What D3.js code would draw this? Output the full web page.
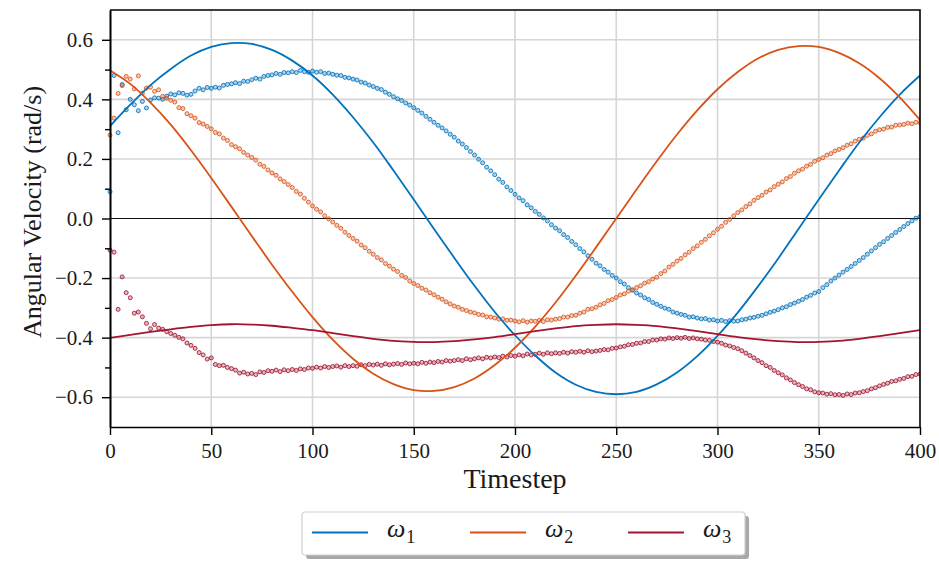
<!DOCTYPE html>
<html>
<head>
<meta charset="utf-8">
<script src="https://cdn.jsdelivr.net/npm/d3@7"></script>
<style>
  body { margin: 0; background: #fff; }
  svg { display: block; }
  svg text { font-family: "Liberation Serif", "DejaVu Serif", serif !important; fill: #1a1a1a; }
</style>
</head>
<body>
<svg id="drawing_region"></svg>
<script>
// model curves, sampled every 10 timesteps
const lineSteps = d3.range(0, 401, 10);
const w1Line = [0.310, 0.382, 0.448, 0.502, 0.547, 0.576, 0.589, 0.586, 0.566, 0.530, 0.480, 0.416, 0.340, 0.255, 0.161, 0.064, -0.035, -0.132, -0.226, -0.314, -0.392, -0.460, -0.517, -0.558, -0.582, -0.590, -0.582, -0.557, -0.517, -0.462, -0.394, -0.316, -0.228, -0.134, -0.035, 0.064, 0.161, 0.255, 0.340, 0.416, 0.480];
const w2Line = [0.497, 0.452, 0.389, 0.315, 0.229, 0.136, 0.039, -0.059, -0.155, -0.246, -0.331, -0.407, -0.471, -0.521, -0.556, -0.576, -0.579, -0.566, -0.537, -0.492, -0.434, -0.363, -0.282, -0.192, -0.097, 0.000, 0.097, 0.192, 0.282, 0.363, 0.434, 0.492, 0.537, 0.566, 0.579, 0.576, 0.556, 0.521, 0.471, 0.407, 0.331];
const w3Line = [-0.401, -0.391, -0.381, -0.372, -0.364, -0.358, -0.355, -0.356, -0.360, -0.367, -0.375, -0.385, -0.395, -0.404, -0.411, -0.414, -0.415, -0.412, -0.406, -0.398, -0.388, -0.378, -0.369, -0.361, -0.357, -0.355, -0.357, -0.361, -0.369, -0.378, -0.388, -0.398, -0.406, -0.412, -0.415, -0.414, -0.411, -0.404, -0.395, -0.385, -0.375];

// estimated values, every 2 timesteps
const dotSteps = d3.range(0, 401, 2);
const w1Est = [
  0.090, 0.480, 0.288, 0.450, 0.365, 0.400, 0.382, 0.362, 0.393, 0.371,
  0.398, 0.405, 0.404, 0.400, 0.411, 0.418, 0.415, 0.422, 0.420, 0.414,
  0.417, 0.428, 0.437, 0.432, 0.440, 0.437, 0.441, 0.438, 0.447, 0.450,
  0.452, 0.456, 0.453, 0.461, 0.460, 0.466, 0.471, 0.468, 0.477, 0.480,
  0.482, 0.487, 0.484, 0.490, 0.489, 0.493, 0.490, 0.497, 0.493, 0.491,
  0.495, 0.491, 0.493, 0.487, 0.488, 0.484, 0.481, 0.480, 0.474, 0.472,
  0.468, 0.465, 0.458, 0.455, 0.448, 0.443, 0.437, 0.433, 0.424, 0.417,
  0.409, 0.402, 0.396, 0.388, 0.381, 0.372, 0.363, 0.354, 0.343, 0.333,
  0.323, 0.313, 0.304, 0.294, 0.283, 0.273, 0.260, 0.250, 0.238, 0.225,
  0.213, 0.199, 0.187, 0.172, 0.160, 0.147, 0.132, 0.121, 0.106, 0.094,
  0.081, 0.069, 0.060, 0.046, 0.036, 0.024, 0.014, 0.002, -0.008, -0.021,
  -0.032, -0.041, -0.054, -0.064, -0.077, -0.088, -0.101, -0.112, -0.125, -0.137,
  -0.150, -0.159, -0.171, -0.180, -0.191, -0.200, -0.212, -0.220, -0.232, -0.241,
  -0.250, -0.257, -0.266, -0.272, -0.282, -0.288, -0.295, -0.301, -0.305, -0.314,
  -0.318, -0.322, -0.325, -0.331, -0.330, -0.334, -0.337, -0.336, -0.341, -0.340,
  -0.344, -0.342, -0.346, -0.343, -0.345, -0.344, -0.340, -0.338, -0.334, -0.332,
  -0.328, -0.325, -0.320, -0.315, -0.311, -0.306, -0.300, -0.296, -0.289, -0.284,
  -0.278, -0.272, -0.264, -0.258, -0.250, -0.245, -0.232, -0.222, -0.210, -0.200,
  -0.190, -0.180, -0.171, -0.161, -0.151, -0.141, -0.131, -0.120, -0.109, -0.098,
  -0.087, -0.078, -0.067, -0.057, -0.047, -0.037, -0.027, -0.017, -0.008, 0.001,
  0.006];
const w2Est = [
  0.280, 0.337, 0.420, 0.446, 0.477, 0.468, 0.435, 0.479, 0.421, 0.438,
  0.441, 0.427, 0.432, 0.410, 0.404, 0.397, 0.391, 0.372, 0.369, 0.352,
  0.345, 0.337, 0.322, 0.317, 0.309, 0.301, 0.289, 0.284, 0.270, 0.262,
  0.248, 0.241, 0.234, 0.222, 0.213, 0.205, 0.196, 0.182, 0.175, 0.163,
  0.153, 0.145, 0.133, 0.124, 0.114, 0.104, 0.091, 0.082, 0.068, 0.055,
  0.042, 0.031, 0.022, 0.009, -0.001, -0.012, -0.023, -0.033, -0.046, -0.057,
  -0.067, -0.076, -0.089, -0.098, -0.110, -0.120, -0.131, -0.139, -0.151, -0.160,
  -0.170, -0.178, -0.191, -0.198, -0.210, -0.218, -0.225, -0.234, -0.240, -0.249,
  -0.256, -0.264, -0.271, -0.280, -0.287, -0.294, -0.298, -0.305, -0.309, -0.314,
  -0.317, -0.322, -0.324, -0.330, -0.331, -0.334, -0.338, -0.337, -0.342, -0.341,
  -0.344, -0.347, -0.343, -0.348, -0.344, -0.345, -0.342, -0.346, -0.340, -0.341,
  -0.338, -0.336, -0.331, -0.331, -0.326, -0.325, -0.318, -0.314, -0.305, -0.303,
  -0.298, -0.290, -0.285, -0.276, -0.272, -0.265, -0.257, -0.253, -0.244, -0.239,
  -0.232, -0.226, -0.217, -0.212, -0.203, -0.197, -0.185, -0.176, -0.163, -0.154,
  -0.143, -0.134, -0.122, -0.113, -0.101, -0.092, -0.080, -0.070, -0.058, -0.048,
  -0.036, -0.026, -0.013, -0.003, 0.009, 0.020, 0.029, 0.040, 0.049, 0.061,
  0.070, 0.078, 0.089, 0.096, 0.107, 0.115, 0.123, 0.134, 0.141, 0.152,
  0.160, 0.166, 0.176, 0.182, 0.192, 0.198, 0.204, 0.213, 0.218, 0.227,
  0.232, 0.238, 0.246, 0.251, 0.260, 0.266, 0.270, 0.279, 0.284, 0.293,
  0.298, 0.300, 0.306, 0.307, 0.313, 0.314, 0.316, 0.320, 0.318, 0.323,
  0.322];
const w3Est = [
  -0.106, -0.113, -0.305, -0.196, -0.249, -0.266, -0.318, -0.314, -0.330, -0.352,
  -0.370, -0.356, -0.368, -0.372, -0.380, -0.386, -0.392, -0.399, -0.404, -0.418,
  -0.426, -0.436, -0.450, -0.458, -0.472, -0.468, -0.490, -0.494, -0.493, -0.500,
  -0.504, -0.509, -0.519, -0.516, -0.522, -0.520, -0.524, -0.515, -0.517, -0.511,
  -0.513, -0.509, -0.514, -0.508, -0.511, -0.507, -0.510, -0.505, -0.507, -0.502,
  -0.503, -0.499, -0.502, -0.497, -0.500, -0.497, -0.495, -0.499, -0.494, -0.497,
  -0.494, -0.496, -0.491, -0.494, -0.490, -0.492, -0.489, -0.493, -0.488, -0.491,
  -0.489, -0.487, -0.490, -0.485, -0.488, -0.486, -0.488, -0.483, -0.486, -0.482,
  -0.484, -0.480, -0.482, -0.477, -0.479, -0.477, -0.474, -0.477, -0.471, -0.474,
  -0.471, -0.468, -0.471, -0.466, -0.468, -0.465, -0.467, -0.462, -0.465, -0.460,
  -0.462, -0.458, -0.461, -0.455, -0.458, -0.456, -0.452, -0.456, -0.451, -0.454,
  -0.451, -0.453, -0.449, -0.452, -0.447, -0.449, -0.446, -0.449, -0.444, -0.447,
  -0.445, -0.443, -0.440, -0.441, -0.436, -0.435, -0.431, -0.429, -0.424, -0.423,
  -0.419, -0.418, -0.413, -0.413, -0.408, -0.408, -0.404, -0.405, -0.401, -0.403,
  -0.400, -0.402, -0.399, -0.403, -0.401, -0.404, -0.405, -0.408, -0.409, -0.413,
  -0.415, -0.419, -0.425, -0.428, -0.433, -0.437, -0.444, -0.452, -0.460, -0.468,
  -0.477, -0.484, -0.494, -0.500, -0.510, -0.518, -0.525, -0.535, -0.542, -0.551,
  -0.558, -0.564, -0.572, -0.575, -0.582, -0.585, -0.586, -0.590, -0.588, -0.592,
  -0.591, -0.594, -0.589, -0.591, -0.586, -0.585, -0.581, -0.578, -0.572, -0.568,
  -0.562, -0.557, -0.553, -0.547, -0.545, -0.540, -0.537, -0.531, -0.530, -0.524,
  -0.522];

const seriesSubs = ['1', '2', '3'];
const seriesColors = ['#0072BD', '#D95319', '#A2142F'];
const xTicks = [0, 50, 100, 150, 200, 250, 300, 350, 400];
const yTicks = [-0.6, -0.4, -0.2, 0.0, 0.2, 0.4, 0.6];
const yMinor = [-0.5, -0.3, -0.1, 0.1, 0.3, 0.5];

const lines = [w1Line, w2Line, w3Line];
const ests = [w1Est, w2Est, w3Est];

const config = {
    width: 939,
    height: 561,
    margin: {top: 10, right: 19, bottom: 134, left: 110}
};

const svg = d3.select('#drawing_region')
    .attr('width', config.width)
    .attr('height', config.height);

const inner_width = config.width - config.margin.left - config.margin.right;
const inner_height = config.height - config.margin.top - config.margin.bottom;

const chart = svg.append('g')
    .attr('transform', `translate(${config.margin.left}, ${config.margin.top})`);

const xscale = d3.scaleLinear().domain([0, 400]).range([0, inner_width]);
const yscale = d3.scaleLinear().domain([-0.7, 0.7]).range([inner_height, 0]);

chart.append('clipPath').attr('id', 'clip')
    .append('rect').attr('x', -3).attr('width', inner_width + 3).attr('height', inner_height);

// grid
chart.append('g').selectAll('line')
    .data(xTicks.slice(1, -1))
    .join('line')
    .attr('x1', d => xscale(d)).attr('x2', d => xscale(d))
    .attr('y1', 0).attr('y2', inner_height)
    .attr('stroke', '#d6d6d6').attr('stroke-width', 1.6);

chart.append('g').selectAll('line')
    .data(yTicks.filter(d => d !== 0))
    .join('line')
    .attr('x1', 0).attr('x2', inner_width)
    .attr('y1', d => yscale(d)).attr('y2', d => yscale(d))
    .attr('stroke', '#d6d6d6').attr('stroke-width', 1.6);

chart.append('line')
    .attr('x1', 0).attr('x2', inner_width)
    .attr('y1', yscale(0)).attr('y2', yscale(0))
    .attr('stroke', '#111').attr('stroke-width', 1.2);

const plot = chart.append('g').attr('clip-path', 'url(#clip)');

// estimated points
ests.forEach((vals, i) => {
    plot.append('g').selectAll('circle')
        .data(vals)
        .join('circle')
        .attr('cx', (d, j) => xscale(dotSteps[j]))
        .attr('cy', d => yscale(d))
        .attr('r', 2)
        .attr('fill', seriesColors[i])
        .attr('fill-opacity', 0.3)
        .attr('stroke', seriesColors[i])
        .attr('stroke-opacity', 0.85)
        .attr('stroke-width', 1);
});

// model lines
const line = d3.line()
    .x((d, j) => xscale(lineSteps[j]))
    .y(d => yscale(d))
    .curve(d3.curveCatmullRom);

lines.forEach((vals, i) => {
    plot.append('path')
        .datum(vals)
        .attr('d', line)
        .attr('fill', 'none')
        .attr('stroke', seriesColors[i])
        .attr('stroke-width', 1.8);
});

// axes
const xaxis = d3.axisBottom(xscale)
    .tickValues(xTicks)
    .tickSize(8)
    .tickPadding(8)
    .tickSizeOuter(0);

const yaxis = d3.axisLeft(yscale)
    .tickValues(yTicks)
    .tickFormat(d3.format('.1f'))
    .tickSize(8)
    .tickPadding(9)
    .tickSizeOuter(0);

const yminor = d3.axisLeft(yscale)
    .tickValues(yMinor)
    .tickFormat('')
    .tickSize(5)
    .tickSizeOuter(0);

const xaxis_group = chart.append('g')
    .attr('transform', `translate(0, ${inner_height})`)
    .call(xaxis);

const yaxis_group = chart.append('g').call(yaxis);
const yminor_group = chart.append('g').call(yminor);

[xaxis_group, yaxis_group, yminor_group].forEach(g => {
    g.attr('font-family', null).attr('font-size', null);
    g.select('.domain').attr('stroke', '#000').attr('stroke-width', 1.6);
    g.selectAll('.tick line').attr('stroke', '#000').attr('stroke-width', 1.4);
    g.selectAll('.tick text')
        .style('font-size', '21px')
        .attr('fill', '#1a1a1a');
});

// top and right frame
chart.append('path')
    .attr('d', `M0,0H${inner_width}V${inner_height}`)
    .attr('fill', 'none')
    .attr('stroke', '#000')
    .attr('stroke-width', 1.6);

// axis titles
svg.append('text')
    .attr('x', config.margin.left + inner_width / 2)
    .attr('y', 488)
    .attr('text-anchor', 'middle')
    .style('font-size', '28px')
    .text('Timestep');

svg.append('text')
    .attr('transform', 'translate(32, 212) rotate(-90)')
    .attr('text-anchor', 'middle')
    .attr('dominant-baseline', 'central')
    .style('font-size', '26px')
    .text('Angular Velocity (rad/s)');

// legend
const legend = svg.append('g').attr('transform', 'translate(302, 512)');
legend.append('rect')
    .attr('x', 4).attr('y', 4)
    .attr('width', 443).attr('height', 43)
    .attr('rx', 3)
    .attr('fill', '#a8a8a8');
legend.append('rect')
    .attr('width', 443).attr('height', 43)
    .attr('rx', 3)
    .attr('fill', '#fff')
    .attr('stroke', '#cfcfcf')
    .attr('stroke-width', 1.2);

const legendX = [10, 168, 326];
seriesSubs.forEach((s, i) => {
    const g = legend.append('g').attr('transform', `translate(${legendX[i]}, 0)`);
    g.append('line')
        .attr('x1', 0).attr('x2', 56)
        .attr('y1', 20.5).attr('y2', 20.5)
        .attr('stroke', seriesColors[i])
        .attr('stroke-width', 1.8);
    const t = g.append('text')
        .attr('x', 75)
        .attr('y', 25)
        .style('font-size', '26px');
    t.append('tspan').attr('font-style', 'italic').text('ω');
    t.append('tspan').style('font-size', '18px').attr('dy', 6).attr('dx', 1).text(s);
});
</script>
</body>
</html>
